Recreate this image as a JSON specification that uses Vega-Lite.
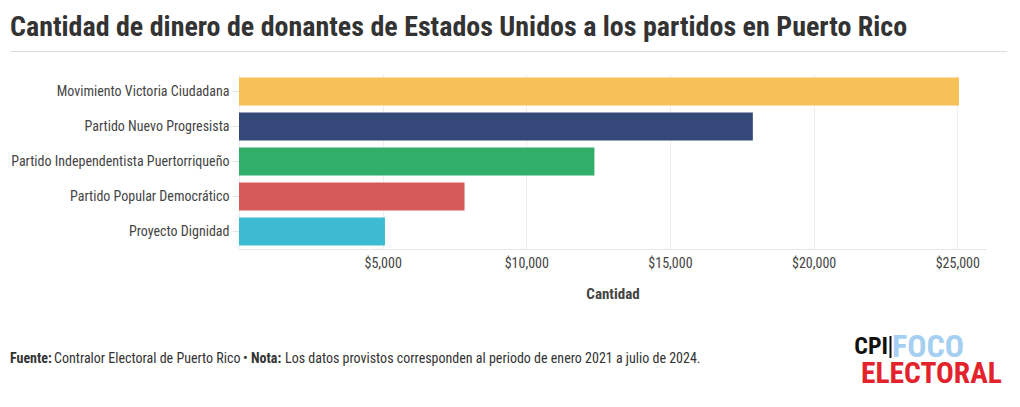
{
  "$schema": "https://vega.github.io/schema/vega-lite/v6.json",
  "background": "white",
  "padding": {"left": 10, "top": 14, "right": 10, "bottom": 0},
  "config": {
    "view": {"stroke": null},
    "font": "Roboto Condensed, Liberation Sans Narrow, Arial Narrow, DejaVu Sans Condensed, Roboto, sans-serif"
  },
  "title": {
    "text": "Cantidad de dinero de donantes de Estados Unidos a los partidos en Puerto Rico",
    "anchor": "start",
    "frame": "bounds",
    "fontSize": 28,
    "fontWeight": "bold",
    "color": "#333333",
    "offset": 9
  },
  "width": 747,
  "height": 175,
  "layer": [
    {
      "data": {"values": [
        {"partido": "Movimiento Victoria Ciudadana", "cantidad": 25060},
        {"partido": "Partido Nuevo Progresista", "cantidad": 17885},
        {"partido": "Partido Independentista Puertorriqueño", "cantidad": 12370},
        {"partido": "Partido Popular Democrático", "cantidad": 7850},
        {"partido": "Proyecto Dignidad", "cantidad": 5080}
      ]},
      "mark": {"type": "bar"},
      "encoding": {
        "y": {
          "field": "partido", "type": "nominal", "sort": null,
          "scale": {"paddingInner": 0.2, "paddingOuter": 0.1},
          "axis": {"title": null, "labelFontSize": 14, "labelColor": "#444444", "labelLimit": 400, "domain": true, "domainColor": "#eeeeee", "tickColor": "#e6e6e6", "tickSize": 7, "labelPadding": 3}
        },
        "x": {
          "field": "cantidad", "type": "quantitative",
          "scale": {"domain": [0, 26000], "nice": false},
          "axis": {"values": [5000, 10000, 15000, 20000, 25000], "format": "$,.0f", "labelFontSize": 14, "labelColor": "#444444", "grid": true, "gridColor": "#eeeeee", "domainColor": "#e6e6e6", "ticks": false, "labelPadding": 7, "title": "Cantidad", "titleFontSize": 15, "titleFontWeight": "bold", "titleColor": "#444444", "titlePadding": 16}
        },
        "color": {
          "field": "partido", "type": "nominal",
          "scale": {"domain": ["Movimiento Victoria Ciudadana", "Partido Nuevo Progresista", "Partido Independentista Puertorriqueño", "Partido Popular Democrático", "Proyecto Dignidad"], "range": ["#f8c158", "#34497a", "#30ae6a", "#d55a5a", "#3dbbd2"]},
          "legend": null
        }
      }
    },
    {
      "data": {"values": [{}]},
      "mark": {"type": "rule", "color": "#dcdcdc", "strokeWidth": 1},
      "encoding": {"x": {"value": -228}, "x2": {"value": 768}, "y": {"value": -22.5}}
    },
    {
      "data": {"values": [
        {"pieza": "Fuente:", "peso": "bold", "pos": -229},
        {"pieza": "Contralor Electoral de Puerto Rico", "peso": "normal", "pos": -185},
        {"pieza": "•", "peso": "normal", "pos": 4},
        {"pieza": "Nota:", "peso": "bold", "pos": 12},
        {"pieza": "Los datos provistos corresponden al periodo de enero 2021 a julio de 2024.", "peso": "normal", "pos": 46}
      ]},
      "layer": [
        {
          "transform": [{"filter": "datum.peso == 'bold'"}],
          "mark": {"type": "text", "align": "left", "baseline": "middle", "fontSize": 14, "fontWeight": "bold", "color": "#333333", "y": 284.5},
          "encoding": {"x": {"field": "pos", "type": "quantitative", "scale": null}, "text": {"field": "pieza"}}
        },
        {
          "transform": [{"filter": "datum.peso == 'normal'"}],
          "mark": {"type": "text", "align": "left", "baseline": "middle", "fontSize": 14, "color": "#333333", "y": 284.5},
          "encoding": {"x": {"field": "pos", "type": "quantitative", "scale": null}, "text": {"field": "pieza"}}
        }
      ]
    },
    {
      "data": {"values": [{}]},
      "layer": [
        {
          "mark": {"type": "text", "align": "right", "baseline": "middle", "fontSize": 24, "fontWeight": "bold", "color": "#111111", "text": "CPI", "x": 649, "y": 273},
          "encoding": {}
        },
        {
          "mark": {"type": "rule", "color": "#111111", "strokeWidth": 2},
          "encoding": {"x": {"value": 651.5}, "y": {"value": 262}, "y2": {"value": 284}}
        },
        {
          "mark": {"type": "text", "align": "left", "baseline": "middle", "fontSize": 32, "fontWeight": "bold", "color": "#a6d0f2", "text": "FOCO", "x": 653, "y": 273},
          "encoding": {}
        },
        {
          "mark": {"type": "text", "align": "left", "baseline": "middle", "fontSize": 29.5, "fontWeight": "bold", "color": "#e4222b", "text": "ELECTORAL", "x": 622, "y": 300},
          "encoding": {}
        }
      ]
    }
  ]
}
